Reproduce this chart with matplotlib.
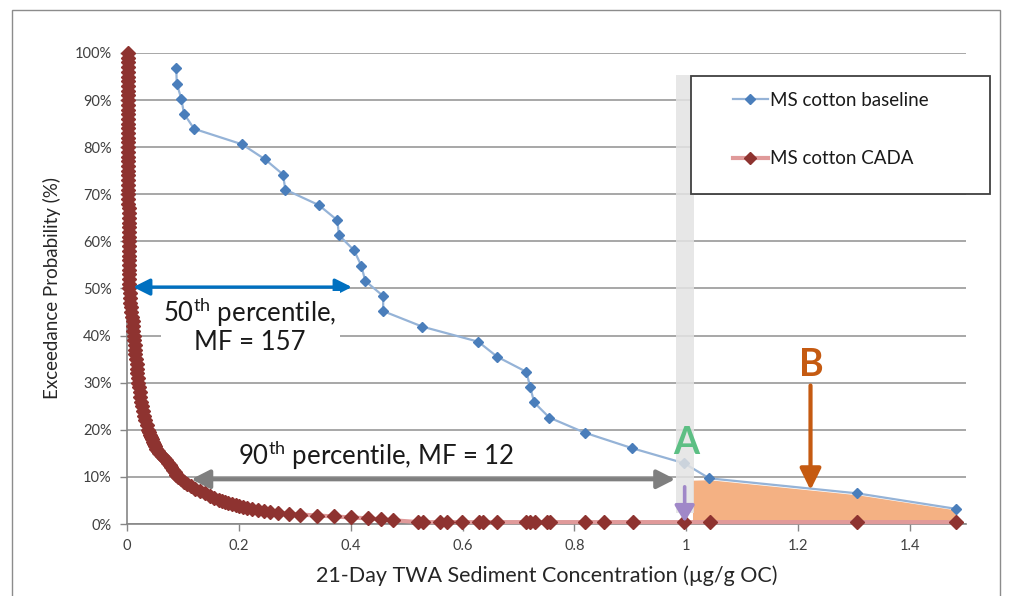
import numpy as np
import matplotlib.pyplot as plt
from matplotlib.patches import Rectangle
from matplotlib.lines import Line2D

plt.rcParams['font.family'] = ['Lato', 'DejaVu Sans']
plt.rcParams['mathtext.fontset'] = 'custom'
plt.rcParams['mathtext.rm'] = 'Lato'

W, H = 1010, 596

# MS cotton baseline: concentration (ug/g OC) vs exceedance probability (%)
baseline_conc = [0.088, 0.089, 0.097, 0.102, 0.120, 0.206, 0.247, 0.279, 0.283, 0.343,
                 0.376, 0.379, 0.406, 0.419, 0.426, 0.458, 0.458, 0.528, 0.628, 0.662,
                 0.714, 0.721, 0.728, 0.755, 0.818, 0.903, 0.996, 1.041, 1.306, 1.483]
baseline_prob = [96.8, 93.5, 90.3, 87.1, 83.9, 80.6, 77.4, 74.2, 71.0, 67.7,
                 64.5, 61.3, 58.1, 54.8, 51.6, 48.4, 45.2, 41.9, 38.7, 35.5,
                 32.3, 29.0, 25.8, 22.6, 19.4, 16.1, 12.9, 9.7, 6.5, 3.2]

# MS cotton CADA
cada_prob = [100, 99, 98, 97, 96, 95, 94, 93, 92, 91,
             90, 89, 88, 87, 86, 85, 84, 83, 82, 81,
             80, 79, 78, 77, 76, 75, 74, 73, 72, 71,
             70, 69, 68, 67, 66, 65, 64, 63, 62, 61,
             60, 59, 58, 57, 56, 55, 54, 53, 52, 51,
             50, 49, 48, 47, 46, 45, 44, 43, 42, 41,
             40, 39, 38, 37, 36, 35, 34, 33, 32, 31,
             30, 29, 28, 27, 26, 25, 24, 23, 22, 21,
             20, 19.5, 19, 18.5, 18, 17.5, 17, 16.5, 16, 15.5,
             15, 14.5, 14, 13.5, 13, 12.5, 12, 11.5, 11, 10.5,
             10, 9.5, 9, 8.5, 8, 7.5, 7, 6.5, 6, 5.5,
             5, 4.8, 4.6, 4.4, 4.2, 4.0, 3.8, 3.6, 3.4, 3.2,
             3.0, 2.8, 2.6, 2.4, 2.2, 2.0, 1.8, 1.6, 1.4, 1.2,
             1.0, 0.8, 0.4, 0.4, 0.4, 0.4, 0.4, 0.4, 0.4, 0.4,
             0.4, 0.4, 0.4, 0.4, 0.4, 0.4, 0.4, 0.4, 0.4, 0.4,
             0.4, 0.4]
cada_conc = [0.001, 0.001, 0.001, 0.001, 0.001, 0.001, 0.001, 0.001, 0.001, 0.001,
             0.001, 0.001, 0.001, 0.001, 0.001, 0.002, 0.002, 0.002, 0.002, 0.002,
             0.002, 0.002, 0.002, 0.002, 0.002, 0.002, 0.002, 0.002, 0.002, 0.002,
             0.002, 0.002, 0.002, 0.003, 0.003, 0.003, 0.003, 0.003, 0.003, 0.003,
             0.003, 0.003, 0.003, 0.003, 0.003, 0.003, 0.003, 0.003, 0.003, 0.004,
             0.004, 0.005, 0.005, 0.006, 0.007, 0.008, 0.009, 0.010, 0.010, 0.011,
             0.012, 0.013, 0.014, 0.014, 0.015, 0.016, 0.017, 0.018, 0.018, 0.019,
             0.020, 0.022, 0.023, 0.024, 0.025, 0.027, 0.028, 0.030, 0.032, 0.035,
             0.038, 0.040, 0.041, 0.043, 0.044, 0.046, 0.048, 0.050, 0.052, 0.055,
             0.058, 0.062, 0.066, 0.070, 0.073, 0.076, 0.078, 0.082, 0.085, 0.088,
             0.092, 0.097, 0.102, 0.108, 0.115, 0.122, 0.130, 0.139, 0.148, 0.156,
             0.165, 0.170, 0.175, 0.180, 0.188, 0.195, 0.201, 0.207, 0.215, 0.224,
             0.235, 0.245, 0.255, 0.270, 0.290, 0.310, 0.340, 0.370, 0.400, 0.430,
             0.455, 0.475, 0.521, 0.529, 0.560, 0.572, 0.599, 0.630, 0.637, 0.661,
             0.714, 0.721, 0.730, 0.751, 0.756, 0.819, 0.852, 0.904, 0.995, 1.042,
             1.306, 1.483]

# shaded region B (under the baseline curve above 1 ug/g OC)
fill_conc = [1.011, 1.041, 1.306, 1.481]
fill_top = [9.3, 9.4, 6.2, 3.0]
fill_bottom = 0.6

x_ticks = [0, 0.2, 0.4, 0.6, 0.8, 1, 1.2, 1.4]
x_ticklabels = ['0', '0.2', '0.4', '0.6', '0.8', '1', '1.2', '1.4']
y_ticks = list(range(0, 101, 10))

fig = plt.figure(figsize=(W / 100, H / 100), dpi=100)
ax = fig.add_axes([127 / W, 1 - 524 / H, 839 / W, 471 / H])

ax.fill_between(fill_conc, fill_bottom, fill_top, color='#f4b183', lw=0, zorder=1.5)

ax.plot(baseline_conc, baseline_prob, color='#95b3d7', lw=1.6, marker='D', ms=5.5,
        mfc='#4a7ebb', mec='#4a7ebb', zorder=3, label='MS cotton baseline')
ax.plot(cada_conc, cada_prob, color='#e09a9a', lw=3, marker='D', ms=7.2,
        mfc='#8e3330', mec='#8e3330', zorder=3, clip_on=False, label='MS cotton CADA')

ax.set_xlim(0, 1.5)
ax.set_ylim(0, 100)
ax.set_xticks(x_ticks)
ax.set_xticklabels(x_ticklabels)
ax.set_yticks(y_ticks)
ax.set_yticklabels([f'{v}%' for v in y_ticks])
ax.tick_params(axis='both', labelsize=10.5, colors='#404040', length=5, width=1, pad=6)
ax.tick_params(axis='both', color='#868686')
ax.grid(axis='y', color='#a0a0a0', lw=1.3, zorder=0)
ax.set_axisbelow(True)
for s in ['top', 'right']:
    ax.spines[s].set_visible(False)
for s in ['left', 'bottom']:
    ax.spines[s].set_color('#868686')
    ax.spines[s].set_linewidth(1.2)

ax.set_xlabel('21-Day TWA Sediment Concentration (µg/g OC)', fontsize=15.5, color='#262626', labelpad=9)
ax.set_ylabel('Exceedance Probability (%)', fontsize=13.5, color='#262626', labelpad=10)

# grey band at 1 ug/g OC
ax.axvspan(0.982, 1.014, ymin=0.023, ymax=0.953, color='#e3e3e3', alpha=0.85, lw=0, zorder=4)

# arrows
ax.annotate('', xy=(0.011, 50.3), xytext=(0.402, 50.3),
            arrowprops=dict(arrowstyle='<|-|>,head_length=0.5,head_width=0.25', color='#0070c0',
                            lw=2.4, shrinkA=0, shrinkB=0, mutation_scale=20), zorder=5)
ax.annotate('', xy=(0.115, 9.5), xytext=(0.98, 9.5),
            arrowprops=dict(arrowstyle='<|-|>,head_length=0.55,head_width=0.28', color='#7f7f7f',
                            lw=3, shrinkA=0, shrinkB=0, mutation_scale=20), zorder=5)
ax.annotate('', xy=(1.222, 7.2), xytext=(1.222, 29.4),
            arrowprops=dict(arrowstyle='-|>,head_length=0.65,head_width=0.32', color='#c55a11',
                            lw=3, shrinkA=0, shrinkB=0, mutation_scale=20), zorder=5)
ax.annotate('', xy=(0.997, 0.4), xytext=(0.997, 7.9),
            arrowprops=dict(arrowstyle='-|>,head_length=0.5,head_width=0.3', color='#a088c8',
                            lw=2.6, shrinkA=0, shrinkB=0, mutation_scale=20), zorder=5)

box = dict(facecolor='white', edgecolor='none', pad=2)
ax.text(0.22, 42.2, '50$^{\\mathrm{th}}$ percentile,\nMF = 157', fontsize=18.5, ha='center', va='center',
        color='#1a1a1a', linespacing=1.05, bbox=box, zorder=6)
ax.text(0.445, 14.6, '90$^{\\mathrm{th}}$ percentile, MF = 12', fontsize=18.5, ha='center', va='center',
        color='#1a1a1a', bbox=box, zorder=6)
ax.text(1.0, 17.2, 'A', fontsize=27, fontweight='bold', color='#5dbf84', ha='center', va='center', zorder=6)
ax.text(1.224, 33.8, 'B', fontsize=27, fontweight='bold', color='#c55a11', ha='center', va='center', zorder=6)

# legend box and entries
fig.add_artist(Rectangle((691 / W, 1 - 194 / H), 299 / W, 118 / H, transform=fig.transFigure,
                         facecolor='white', edgecolor='#404040', lw=1.3, zorder=10))
handles = [Line2D([], [], color='#95b3d7', lw=1.6, marker='D', ms=5.5, mfc='#4a7ebb', mec='#4a7ebb'),
           Line2D([], [], color='#e09a9a', lw=3, marker='D', ms=6, mfc='#8e3330', mec='#8e3330')]
leg = fig.legend(handles, ['MS cotton baseline', 'MS cotton CADA'], loc='upper left',
                 bbox_to_anchor=(733 / W, 1 - 92 / H), frameon=False, fontsize=13.5,
                 labelspacing=2.2, handlelength=1.85, handletextpad=0.12, borderpad=0,
                 borderaxespad=0, numpoints=1, labelcolor='#1a1a1a')
leg.set_zorder(11)

# outer chart border
fig.add_artist(Rectangle((12 / W, -0.05), 988 / W, 1.05 - 10 / H, transform=fig.transFigure,
                         fill=False, edgecolor='#8c8c8c', lw=1, zorder=0))

fig.savefig('out.png', dpi=100)
